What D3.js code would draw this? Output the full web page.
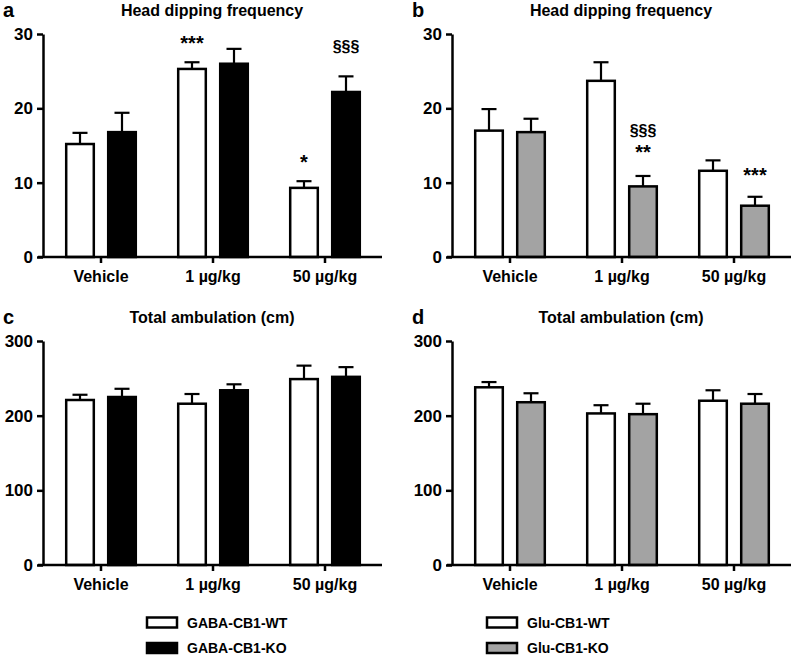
<!DOCTYPE html>
<html><head><meta charset="utf-8">
<script src="https://cdn.jsdelivr.net/npm/d3@7"></script>
<style>body{margin:0;background:#fff}svg{display:block}text{font-family:"Liberation Sans",Arial,sans-serif;font-weight:bold;fill:#000}</style>
</head><body><svg id="c" width="794" height="662"></svg>
<script>
const categories = ["Vehicle", "1 µg/kg", "50 µg/kg"];
const seriesGABA = ["GABA-CB1-WT", "GABA-CB1-KO"];
const seriesGlu = ["Glu-CB1-WT", "Glu-CB1-KO"];
// panel a: head dipping GABA
const aWT = [15.2, 25.3, 9.3], aWTerr = [1.5, 0.9, 0.9];
const aKO = [16.8, 26.0, 22.2], aKOerr = [2.6, 2.0, 2.1];
// panel b: head dipping Glu
const bWT = [17.0, 23.7, 11.6], bWTerr = [2.9, 2.5, 1.4];
const bKO = [16.8, 9.5, 6.9], bKOerr = [1.8, 1.4, 1.2];
// panel c: ambulation GABA
const cWT = [221, 216, 249], cWTerr = [7, 13, 18];
const cKO = [225, 234, 252], cKOerr = [11, 8, 13];
// panel d: ambulation Glu
const dWT = [238, 203, 220], dWTerr = [7, 11, 14];
const dKO = [218, 202, 216], dKOerr = [12, 14, 13];
const ticksHD = [0, 10, 20, 30];
const ticksAmb = [0, 100, 200, 300];

const svg = d3.select("#c");
const fills = {gaba: ["#fff", "#000"], glu: ["#fff", "#a3a3a3"]};

function panel(o) {
  const g = svg.append("g").attr("transform", `translate(${o.dx},0)`);
  const axX = 43, top = o.top, bot = o.bot;
  const y = d3.scaleLinear().domain([0, o.max]).range([bot, top]);
  const x = d3.scaleBand().domain(categories).range([45, 381]);
  const xs = d3.scaleBand().domain(o.series).range([-36, 36]).paddingInner(2 - 72 / 42);
  o.vals.forEach((vals, si) => {
    const errs = o.errs[si];
    categories.forEach((c, ci) => {
      const cx = x(c) + x.bandwidth() / 2 + xs(o.series[si]);
      const mid = cx + xs.bandwidth() / 2;
      g.append("line").attr("x1", mid).attr("x2", mid)
        .attr("y1", y(vals[ci])).attr("y2", y(vals[ci] + errs[ci]))
        .attr("stroke", "#000").attr("stroke-width", 2.2);
      g.append("line").attr("x1", mid - 7.5).attr("x2", mid + 7.5)
        .attr("y1", y(vals[ci] + errs[ci])).attr("y2", y(vals[ci] + errs[ci]))
        .attr("stroke", "#000").attr("stroke-width", 2.2);
      g.append("rect").attr("x", cx + 1.2).attr("width", xs.bandwidth() - 2.4)
        .attr("y", y(vals[ci])).attr("height", y(0) - y(vals[ci]))
        .attr("fill", o.fill[si]).attr("stroke", "#000").attr("stroke-width", 2.5);
    });
  });
  const ya = g.append("g").attr("transform", `translate(${axX},0)`)
    .call(d3.axisLeft(y).tickValues(o.ticks).tickSize(6).tickSizeOuter(0).tickPadding(4));
  ya.select(".domain").attr("stroke-width", 2.5);
  ya.selectAll(".tick line").attr("stroke-width", 2.5);
  ya.selectAll("text").attr("font-size", 17).attr("font-family", '"Liberation Sans",Arial,sans-serif').attr("font-weight", "bold");
  const xa = g.append("g").attr("transform", `translate(0,${bot})`)
    .call(d3.axisBottom(x).tickSize(6).tickSizeOuter(0).tickPadding(8));
  xa.select(".domain").attr("d", `M38,0H382`).attr("stroke-width", 2.5);
  xa.selectAll(".tick line").attr("stroke-width", 2.5);
  xa.selectAll("text").attr("font-size", 16).attr("font-family", '"Liberation Sans",Arial,sans-serif').attr("font-weight", "bold");
  g.append("text").attr("x", 3).attr("y", top - 17).attr("font-size", 20).text(o.letter);
  g.append("text").attr("x", 212).attr("y", top - 18).attr("text-anchor", "middle").attr("font-size", 16).text(o.title);
  (o.notes || []).forEach(n => {
    const cx = x(n.cat) + x.bandwidth() / 2 + xs(o.series[n.s]) + xs.bandwidth() / 2;
    g.append("text").attr("x", cx).attr("y", y(n.v)).attr("text-anchor", "middle")
      .attr("font-size", n.fs || 20).attr("font-weight", n.w || "bold").text(n.t);
  });
}

panel({dx: 0, top: 34, bot: 257, max: 30, ticks: ticksHD, series: seriesGABA, fill: fills.gaba,
  vals: [aWT, aKO], errs: [aWTerr, aKOerr], letter: "a", title: "Head dipping frequency",
  notes: [{cat: categories[1], s: 0, v: 27.9, t: "***"}, {cat: categories[2], s: 0, v: 11.8, t: "*"},
          {cat: categories[2], s: 1, v: 27.6, t: "§§§", fs: 16, w: "normal"}]});
panel({dx: 409, top: 34, bot: 257, max: 30, ticks: ticksHD, series: seriesGlu, fill: fills.glu,
  vals: [bWT, bKO], errs: [bWTerr, bKOerr], letter: "b", title: "Head dipping frequency",
  notes: [{cat: categories[1], s: 1, v: 16.3, t: "§§§", fs: 16, w: "normal"}, {cat: categories[1], s: 1, v: 13.2, t: "**"},
          {cat: categories[2], s: 1, v: 10.1, t: "***"}]});
panel({dx: 0, top: 341, bot: 565, max: 300, ticks: ticksAmb, series: seriesGABA, fill: fills.gaba,
  vals: [cWT, cKO], errs: [cWTerr, cKOerr], letter: "c", title: "Total ambulation (cm)"});
panel({dx: 409, top: 341, bot: 565, max: 300, ticks: ticksAmb, series: seriesGlu, fill: fills.glu,
  vals: [dWT, dKO], errs: [dWTerr, dKOerr], letter: "d", title: "Total ambulation (cm)"});

function legend(x0, series, fill) {
  series.forEach((s, i) => {
    const yy = 617.5 + i * 25.5;
    svg.append("rect").attr("x", x0).attr("y", yy).attr("width", 30).attr("height", 10)
      .attr("fill", fill[i]).attr("stroke", "#000").attr("stroke-width", 2.5);
    svg.append("text").attr("x", x0 + 40).attr("y", yy + 10).attr("font-size", 14).text(s);
  });
}
legend(147, seriesGABA, fills.gaba);
legend(487, seriesGlu, fills.glu);
</script></body></html>
